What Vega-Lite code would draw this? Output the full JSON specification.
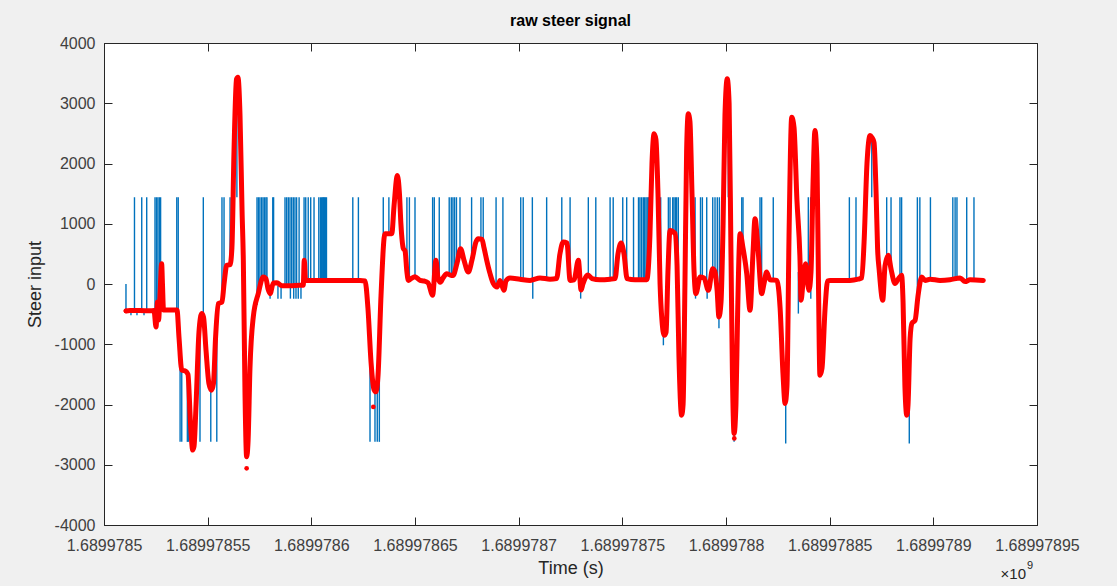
{
  "$schema": "https://vega.github.io/schema/vega-lite/v6.json",
  "width": 933,
  "height": 482,
  "autosize": {"type": "none"},
  "padding": {"left": 104, "top": 43, "right": 80, "bottom": 61},
  "background": "#f0f0f0",
  "title": {"text": "raw steer signal", "fontSize": 16, "fontWeight": "bold", "font": "Liberation Sans", "color": "#000000", "offset": 6},
  "config": {
    "view": {"fill": "white", "stroke": "#262626", "strokeWidth": 1},
    "axis": {"labelFont": "Liberation Sans", "titleFont": "Liberation Sans", "labelFontSize": 16, "titleFontSize": 18, "labelColor": "#404040", "titleColor": "#262626", "titleFontWeight": "normal", "domainColor": "#262626", "tickColor": "#262626", "grid": false}
  },
  "datasets": {
    "red": [
      {"t":1689978510.6,"v":-447},{"t":1689978512.5,"v":-440},{"t":1689978517.4,"v":-440},{"t":1689978522.2,"v":-445},{"t":1689978524.1,"v":-440},{"t":1689978525.1,"v":-713},{"t":1689978525.8,"v":-300},{"t":1689978526.3,"v":-600},{"t":1689978527.0,"v":-200},{"t":1689978527.8,"v":338},{"t":1689978528.2,"v":0},{"t":1689978528.7,"v":-430},{"t":1689978531.8,"v":-430},{"t":1689978535.2,"v":-430},{"t":1689978536.2,"v":-900},{"t":1689978537.5,"v":-1431},{"t":1689978539.1,"v":-1440},{"t":1689978540.5,"v":-1500},{"t":1689978541.7,"v":-2300},{"t":1689978542.8,"v":-2757},{"t":1689978543.4,"v":-2700},{"t":1689978544.4,"v":-2000},{"t":1689978545.8,"v":-800},{"t":1689978547.1,"v":-491},{"t":1689978548.0,"v":-550},{"t":1689978549.2,"v":-1100},{"t":1689978550.6,"v":-1650},{"t":1689978551.9,"v":-1762},{"t":1689978552.8,"v":-1650},{"t":1689978553.8,"v":-900},{"t":1689978555.1,"v":-325},{"t":1689978556.9,"v":-300},{"t":1689978557.9,"v":0},{"t":1689978559.2,"v":310},{"t":1689978560.8,"v":320},{"t":1689978561.7,"v":600},{"t":1689978562.7,"v":2200},{"t":1689978563.9,"v":3400},{"t":1689978564.6,"v":3432},{"t":1689978565.6,"v":2800},{"t":1689978566.6,"v":1200},{"t":1689978567.2,"v":393},{"t":1689978568.0,"v":-1800},{"t":1689978568.8,"v":-2868},{"t":1689978569.5,"v":-2600},{"t":1689978570.4,"v":-1400},{"t":1689978572.0,"v":-547},{"t":1689978574.4,"v":-160},{"t":1689978576.8,"v":116},{"t":1689978578.1,"v":90},{"t":1689978579.1,"v":-80},{"t":1689978580.1,"v":-160},{"t":1689978581.7,"v":17},{"t":1689978583.4,"v":20},{"t":1689978585.9,"v":-30},{"t":1689978589.7,"v":-30},{"t":1689978594.5,"v":-20},{"t":1689978596.1,"v":-20},{"t":1689978596.6,"v":393},{"t":1689978597.2,"v":60},{"t":1689978604.2,"v":60},{"t":1689978613.8,"v":60},{"t":1689978623.5,"v":60},{"t":1689978625.9,"v":50},{"t":1689978627.3,"v":-400},{"t":1689978628.8,"v":-1300},{"t":1689978630.2,"v":-1750},{"t":1689978631.2,"v":-1790},{"t":1689978632.2,"v":-1500},{"t":1689978633.6,"v":-200},{"t":1689978635.5,"v":836},{"t":1689978638.8,"v":836},{"t":1689978639.9,"v":1300},{"t":1689978641.5,"v":1802},{"t":1689978642.5,"v":1500},{"t":1689978643.2,"v":1000},{"t":1689978644.4,"v":587},{"t":1689978645.2,"v":550},{"t":1689978646.1,"v":200},{"t":1689978646.8,"v":60},{"t":1689978648.1,"v":90},{"t":1689978650.0,"v":120},{"t":1689978652.4,"v":60},{"t":1689978654.3,"v":50},{"t":1689978656.3,"v":20},{"t":1689978658.5,"v":-187},{"t":1689978660.1,"v":393},{"t":1689978661.1,"v":100},{"t":1689978662.2,"v":30},{"t":1689978663.5,"v":100},{"t":1689978665.3,"v":172},{"t":1689978666.9,"v":150},{"t":1689978668.3,"v":140},{"t":1689978670.3,"v":350},{"t":1689978672.0,"v":587},{"t":1689978673.6,"v":400},{"t":1689978675.7,"v":199},{"t":1689978677.5,"v":400},{"t":1689978679.4,"v":700},{"t":1689978680.5,"v":753},{"t":1689978682.3,"v":740},{"t":1689978683.3,"v":600},{"t":1689978684.6,"v":393},{"t":1689978686.2,"v":172},{"t":1689978687.8,"v":7},{"t":1689978689.6,"v":-50},{"t":1689978691.0,"v":60},{"t":1689978692.9,"v":-105},{"t":1689978693.9,"v":50},{"t":1689978695.8,"v":100},{"t":1689978700.6,"v":80},{"t":1689978705.5,"v":60},{"t":1689978710.3,"v":100},{"t":1689978715.1,"v":80},{"t":1689978718.3,"v":90},{"t":1689978719.9,"v":500},{"t":1689978721.5,"v":697},{"t":1689978723.3,"v":680},{"t":1689978724.8,"v":60},{"t":1689978726.7,"v":70},{"t":1689978728.8,"v":393},{"t":1689978730.1,"v":-100},{"t":1689978731.0,"v":0},{"t":1689978733.4,"v":150},{"t":1689978735.4,"v":90},{"t":1689978739.2,"v":70},{"t":1689978744.1,"v":80},{"t":1689978746.5,"v":90},{"t":1689978747.9,"v":500},{"t":1689978749.4,"v":680},{"t":1689978750.8,"v":500},{"t":1689978752.3,"v":90},{"t":1689978756.1,"v":70},{"t":1689978761.8,"v":70},{"t":1689978763.3,"v":800},{"t":1689978764.3,"v":2000},{"t":1689978765.3,"v":2494},{"t":1689978766.2,"v":2400},{"t":1689978767.2,"v":1500},{"t":1689978768.2,"v":0},{"t":1689978769.1,"v":-600},{"t":1689978770.2,"v":-851},{"t":1689978771.1,"v":-800},{"t":1689978772.0,"v":200},{"t":1689978773.0,"v":890},{"t":1689978775.4,"v":840},{"t":1689978776.4,"v":300},{"t":1689978777.3,"v":-1200},{"t":1689978778.6,"v":-2177},{"t":1689978779.3,"v":-2000},{"t":1689978780.2,"v":0},{"t":1689978781.0,"v":2200},{"t":1689978781.8,"v":2825},{"t":1689978782.6,"v":2700},{"t":1689978783.6,"v":1500},{"t":1689978784.6,"v":200},{"t":1689978785.5,"v":-160},{"t":1689978787.5,"v":116},{"t":1689978789.4,"v":100},{"t":1689978791.5,"v":-105},{"t":1689978793.6,"v":255},{"t":1689978794.7,"v":200},{"t":1689978795.7,"v":-100},{"t":1689978796.6,"v":-547},{"t":1689978797.6,"v":-300},{"t":1689978798.6,"v":1000},{"t":1689978799.5,"v":2800},{"t":1689978800.6,"v":3405},{"t":1689978801.5,"v":3000},{"t":1689978802.4,"v":500},{"t":1689978803.1,"v":-1500},{"t":1689978803.9,"v":-2481},{"t":1689978804.8,"v":-2000},{"t":1689978805.6,"v":-500},{"t":1689978806.8,"v":836},{"t":1689978808.2,"v":600},{"t":1689978810.0,"v":172},{"t":1689978811.6,"v":-436},{"t":1689978813.0,"v":500},{"t":1689978814.0,"v":1084},{"t":1689978815.4,"v":600},{"t":1689978817.2,"v":-160},{"t":1689978818.3,"v":0},{"t":1689978819.6,"v":199},{"t":1689978821.2,"v":70},{"t":1689978824.5,"v":60},{"t":1689978826.1,"v":-400},{"t":1689978827.5,"v":-1500},{"t":1689978828.5,"v":-1983},{"t":1689978829.4,"v":-1700},{"t":1689978830.4,"v":800},{"t":1689978831.7,"v":2769},{"t":1689978832.8,"v":2600},{"t":1689978834.2,"v":1400},{"t":1689978835.7,"v":393},{"t":1689978836.2,"v":-270},{"t":1689978837.1,"v":0},{"t":1689978838.4,"v":338},{"t":1689978840.0,"v":-105},{"t":1689978841.0,"v":200},{"t":1689978842.0,"v":1700},{"t":1689978842.9,"v":2548},{"t":1689978843.9,"v":2000},{"t":1689978844.6,"v":0},{"t":1689978845.3,"v":-1514},{"t":1689978846.3,"v":-1400},{"t":1689978847.8,"v":-400},{"t":1689978849.0,"v":50},{"t":1689978850.2,"v":60},{"t":1689978855.0,"v":60},{"t":1689978859.8,"v":60},{"t":1689978863.7,"v":80},{"t":1689978865.5,"v":100},{"t":1689978866.6,"v":700},{"t":1689978868.0,"v":2000},{"t":1689978869.5,"v":2465},{"t":1689978870.4,"v":2430},{"t":1689978871.4,"v":2350},{"t":1689978872.4,"v":1500},{"t":1689978873.1,"v":600},{"t":1689978873.9,"v":227},{"t":1689978875.6,"v":-270},{"t":1689978876.7,"v":300},{"t":1689978878.3,"v":476},{"t":1689978879.6,"v":250},{"t":1689978881.5,"v":7},{"t":1689978883.0,"v":80},{"t":1689978884.7,"v":144},{"t":1689978885.4,"v":-300},{"t":1689978886.3,"v":-1700},{"t":1689978887.2,"v":-2177},{"t":1689978887.8,"v":-2000},{"t":1689978888.8,"v":-900},{"t":1689978889.7,"v":-650},{"t":1689978891.2,"v":-602},{"t":1689978892.6,"v":-200},{"t":1689978894.4,"v":116},{"t":1689978896.0,"v":60},{"t":1689978898.4,"v":80},{"t":1689978903.2,"v":60},{"t":1689978908.0,"v":70},{"t":1689978912.9,"v":100},{"t":1689978915.3,"v":40},{"t":1689978917.7,"v":70},{"t":1689978924.1,"v":60}
    ],
    "dots": [
      {"t":1689978510.6,"v":-447},{"t":1689978568.8,"v":-3060},{"t":1689978629.9,"v":-2040},{"t":1689978804.0,"v":-2563}
    ],
    "spikes": [
      {"t":1689978514.7,"lo":-440,"hi":1440},{"t":1689978518.2,"lo":-440,"hi":1440},{"t":1689978520.6,"lo":-440,"hi":1440},{"t":1689978524.6,"lo":-440,"hi":1440},{"t":1689978525.3,"lo":-500,"hi":1440},{"t":1689978526.0,"lo":-450,"hi":1440},{"t":1689978526.7,"lo":-300,"hi":1440},{"t":1689978527.3,"lo":0,"hi":1440},{"t":1689978535.1,"lo":-430,"hi":1440},{"t":1689978535.8,"lo":-700,"hi":1440},{"t":1689978547.9,"lo":-550,"hi":1440},{"t":1689978556.9,"lo":-300,"hi":1440},{"t":1689978557.9,"lo":0,"hi":1440},{"t":1689978560.8,"lo":320,"hi":1440},{"t":1689978564.1,"lo":3300,"hi":1440},
      {"t":1689978573.8,"lo":-350,"hi":1440},{"t":1689978574.5,"lo":-160,"hi":1440},{"t":1689978575.2,"lo":-50,"hi":1440},{"t":1689978576.0,"lo":50,"hi":1440},{"t":1689978576.7,"lo":116,"hi":1440},{"t":1689978577.4,"lo":100,"hi":1440},{"t":1689978578.1,"lo":90,"hi":1440},{"t":1689978578.6,"lo":0,"hi":1440},{"t":1689978581.4,"lo":0,"hi":1440},{"t":1689978581.8,"lo":17,"hi":1440},{"t":1689978587.3,"lo":-30,"hi":1440},{"t":1689978588.1,"lo":-30,"hi":1440},{"t":1689978588.9,"lo":-30,"hi":1440},{"t":1689978589.7,"lo":-30,"hi":1440},{"t":1689978590.5,"lo":-30,"hi":1440},{"t":1689978591.3,"lo":-30,"hi":1440},{"t":1689978592.1,"lo":-30,"hi":1440},{"t":1689978592.9,"lo":-30,"hi":1440},{"t":1689978594.1,"lo":-30,"hi":1440},{"t":1689978596.5,"lo":393,"hi":1440},{"t":1689978597.3,"lo":60,"hi":1440},{"t":1689978598.5,"lo":60,"hi":1440},{"t":1689978599.7,"lo":60,"hi":1440},{"t":1689978601.3,"lo":60,"hi":1440},{"t":1689978603.6,"lo":60,"hi":1440},{"t":1689978604.4,"lo":60,"hi":1440},{"t":1689978605.0,"lo":60,"hi":1440},{"t":1689978605.5,"lo":60,"hi":1440},{"t":1689978605.9,"lo":60,"hi":1440},{"t":1689978606.3,"lo":60,"hi":1440},{"t":1689978606.8,"lo":60,"hi":1440},{"t":1689978607.3,"lo":60,"hi":1440},{"t":1689978620.0,"lo":60,"hi":1440},{"t":1689978622.7,"lo":60,"hi":1440},
      {"t":1689978634.7,"lo":600,"hi":1440},{"t":1689978637.4,"lo":836,"hi":1440},{"t":1689978646.1,"lo":200,"hi":1440},{"t":1689978647.3,"lo":80,"hi":1440},{"t":1689978650.0,"lo":120,"hi":1440},{"t":1689978658.5,"lo":-187,"hi":1440},{"t":1689978659.3,"lo":200,"hi":1440},{"t":1689978661.7,"lo":50,"hi":1440},{"t":1689978666.5,"lo":150,"hi":1440},{"t":1689978667.5,"lo":145,"hi":1440},{"t":1689978668.3,"lo":140,"hi":1440},{"t":1689978669.1,"lo":200,"hi":1440},{"t":1689978670.0,"lo":350,"hi":1440},{"t":1689978671.7,"lo":550,"hi":1440},{"t":1689978677.3,"lo":500,"hi":1440},{"t":1689978681.8,"lo":740,"hi":1440},{"t":1689978682.9,"lo":650,"hi":1440},{"t":1689978689.1,"lo":-50,"hi":1440},{"t":1689978692.4,"lo":0,"hi":1440},{"t":1689978701.0,"lo":80,"hi":1440},{"t":1689978702.2,"lo":75,"hi":1440},{"t":1689978706.6,"lo":60,"hi":1440},{"t":1689978713.5,"lo":90,"hi":1440},{"t":1689978720.8,"lo":600,"hi":1440},{"t":1689978724.8,"lo":60,"hi":1440},{"t":1689978733.6,"lo":150,"hi":1440},{"t":1689978737.2,"lo":80,"hi":1440},{"t":1689978744.1,"lo":80,"hi":1440},{"t":1689978745.6,"lo":85,"hi":1440},{"t":1689978750.2,"lo":600,"hi":1440},{"t":1689978752.1,"lo":90,"hi":1440},{"t":1689978755.4,"lo":70,"hi":1440},{"t":1689978757.8,"lo":70,"hi":1440},{"t":1689978758.5,"lo":70,"hi":1440},{"t":1689978759.3,"lo":70,"hi":1440},{"t":1689978760.1,"lo":70,"hi":1440},{"t":1689978760.7,"lo":70,"hi":1440},{"t":1689978761.4,"lo":70,"hi":1440},{"t":1689978762.0,"lo":70,"hi":1440},{"t":1689978762.6,"lo":70,"hi":1440},{"t":1689978763.0,"lo":500,"hi":1440},
      {"t":1689978768.5,"lo":-200,"hi":1440},{"t":1689978772.2,"lo":200,"hi":1440},{"t":1689978773.0,"lo":890,"hi":1440},{"t":1689978774.3,"lo":870,"hi":1440},{"t":1689978774.9,"lo":850,"hi":1440},{"t":1689978775.6,"lo":800,"hi":1440},{"t":1689978776.2,"lo":400,"hi":1440},{"t":1689978777.0,"lo":-900,"hi":1440},{"t":1689978785.1,"lo":0,"hi":1440},{"t":1689978787.7,"lo":116,"hi":1440},{"t":1689978788.6,"lo":110,"hi":1440},{"t":1689978790.7,"lo":0,"hi":1440},{"t":1689978793.6,"lo":255,"hi":1440},{"t":1689978794.7,"lo":200,"hi":1440},{"t":1689978795.8,"lo":-100,"hi":1440},{"t":1689978796.8,"lo":-547,"hi":1440},{"t":1689978801.1,"lo":3300,"hi":1440},{"t":1689978807.6,"lo":700,"hi":1440},{"t":1689978808.2,"lo":600,"hi":1440},{"t":1689978816.4,"lo":200,"hi":1440},{"t":1689978817.2,"lo":-160,"hi":1440},{"t":1689978822.8,"lo":70,"hi":1440},{"t":1689978839.7,"lo":-50,"hi":1440},{"t":1689978840.8,"lo":100,"hi":1440},{"t":1689978859.5,"lo":60,"hi":1440},{"t":1689978862.7,"lo":70,"hi":1440},{"t":1689978870.3,"lo":2430,"hi":1440},{"t":1689978877.5,"lo":450,"hi":1440},{"t":1689978879.6,"lo":250,"hi":1440},{"t":1689978883.9,"lo":100,"hi":1440},{"t":1689978884.7,"lo":144,"hi":1440},{"t":1689978892.3,"lo":-150,"hi":1440},{"t":1689978893.5,"lo":50,"hi":1440},{"t":1689978898.6,"lo":80,"hi":1440},{"t":1689978909.4,"lo":70,"hi":1440},{"t":1689978910.5,"lo":70,"hi":1440},{"t":1689978911.4,"lo":70,"hi":1440},{"t":1689978916.1,"lo":70,"hi":1440},{"t":1689978919.6,"lo":70,"hi":1440},
      {"t":1689978510.6,"lo":0,"hi":-447},{"t":1689978513.0,"lo":-440,"hi":-520},{"t":1689978515.9,"lo":-440,"hi":-520},{"t":1689978519.3,"lo":-440,"hi":-520},{"t":1689978536.7,"lo":-1200,"hi":-2620},{"t":1689978537.5,"lo":-1431,"hi":-2620},{"t":1689978540.2,"lo":-1440,"hi":-2620},{"t":1689978540.7,"lo":-1600,"hi":-2620},{"t":1689978546.3,"lo":-700,"hi":-2620},{"t":1689978551.5,"lo":-1760,"hi":-2620},{"t":1689978554.4,"lo":-700,"hi":-2620},{"t":1689978580.1,"lo":-30,"hi":-243},{"t":1689978583.9,"lo":-30,"hi":-243},{"t":1689978585.4,"lo":-30,"hi":-243},{"t":1689978589.9,"lo":-30,"hi":-243},{"t":1689978591.5,"lo":-30,"hi":-243},{"t":1689978592.6,"lo":-30,"hi":-243},{"t":1689978593.7,"lo":-30,"hi":-243},{"t":1689978595.0,"lo":-30,"hi":-243},{"t":1689978628.3,"lo":-1100,"hi":-2620},{"t":1689978630.7,"lo":-1790,"hi":-2620},{"t":1689978631.8,"lo":-1700,"hi":-2620},{"t":1689978632.8,"lo":-800,"hi":-2620},{"t":1689978706.8,"lo":60,"hi":-243},{"t":1689978729.9,"lo":-100,"hi":-243},{"t":1689978769.8,"lo":-851,"hi":-1017},{"t":1689978785.3,"lo":-160,"hi":-243},{"t":1689978790.9,"lo":-105,"hi":-243},{"t":1689978796.6,"lo":-547,"hi":-735},{"t":1689978803.9,"lo":-2481,"hi":-2620},{"t":1689978828.8,"lo":-1983,"hi":-2646},{"t":1689978834.9,"lo":200,"hi":-491},{"t":1689978840.9,"lo":-105,"hi":-243},{"t":1689978888.4,"lo":-1500,"hi":-2646}
    ]
  },
  "layer": [
    {
      "data": {"name": "spikes"},
      "mark": {"type": "rule", "color": "#0072BD", "strokeWidth": 1.4},
      "encoding": {
        "x": {"field": "t", "type": "quantitative",
          "scale": {"domain": [1689978500, 1689978950], "nice": false, "zero": false},
          "axis": {"values": [1689978500,1689978550,1689978600,1689978650,1689978700,1689978750,1689978800,1689978850,1689978900,1689978950],
            "labelExpr": "format(datum.value/1e9, '.8~f')", "tickSize": -8, "labelPadding": 20, "labelFlush": false, "labelOverlap": false,
            "title": "Time (s)", "titlePadding": 6}},
        "y": {"field": "lo", "type": "quantitative",
          "scale": {"domain": [-4000, 4000], "nice": false, "zero": false},
          "axis": {"values": [-4000,-3000,-2000,-1000,0,1000,2000,3000,4000],
            "labelExpr": "toString(datum.value)", "tickSize": -8, "labelPadding": 17, "labelFlush": false, "labelOverlap": false,
            "title": "Steer input", "titlePadding": 10}},
        "y2": {"field": "hi"}
      }
    },
    {
      "data": {"name": "red"},
      "mark": {"type": "line", "color": "#ff0000", "strokeWidth": 5, "interpolate": "monotone", "strokeCap": "round", "strokeJoin": "round"},
      "encoding": {
        "x": {"field": "t", "type": "quantitative", "axis": null},
        "y": {"field": "v", "type": "quantitative", "axis": null}
      }
    },
    {
      "data": {"name": "dots"},
      "mark": {"type": "point", "filled": true, "color": "#ff0000", "size": 22, "opacity": 1},
      "encoding": {
        "x": {"field": "t", "type": "quantitative", "axis": null},
        "y": {"field": "v", "type": "quantitative", "axis": null}
      }
    },
    {
      "data": {"values": [{}]},
      "mark": {"type": "text", "text": "×10", "dx": -11, "dy": 49, "fontSize": 15, "font": "Liberation Sans", "color": "#262626", "align": "right", "baseline": "middle"},
      "encoding": {
        "x": {"datum": 1689978950, "type": "quantitative", "axis": null},
        "y": {"datum": -4000, "type": "quantitative", "axis": null}
      }
    },
    {
      "data": {"values": [{}]},
      "mark": {"type": "text", "text": "9", "dx": -10, "dy": 41, "fontSize": 11, "font": "Liberation Sans", "color": "#262626", "align": "left", "baseline": "middle"},
      "encoding": {
        "x": {"datum": 1689978950, "type": "quantitative", "axis": null},
        "y": {"datum": -4000, "type": "quantitative", "axis": null}
      }
    },
    {
      "data": {"name": "dots"},
      "mark": {"type": "point", "opacity": 0},
      "encoding": {
        "x": {"field": "t", "type": "quantitative",
          "axis": {"orient": "top", "values": [1689978500,1689978550,1689978600,1689978650,1689978700,1689978750,1689978800,1689978850,1689978900,1689978950], "labels": false, "tickSize": -8, "domain": false, "title": null}},
        "y": {"field": "v", "type": "quantitative",
          "axis": {"orient": "right", "values": [-4000,-3000,-2000,-1000,0,1000,2000,3000,4000], "labels": false, "tickSize": -8, "domain": false, "title": null}}
      }
    }
  ],
  "resolve": {"axis": {"x": "independent", "y": "independent"}}
}
